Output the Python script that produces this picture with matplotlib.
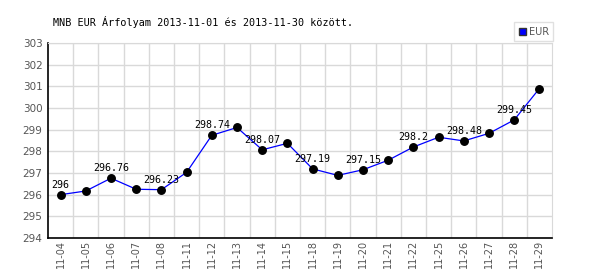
import matplotlib
matplotlib.use("Agg")
import matplotlib.pyplot as plt
import matplotlib.patches as mpatches

dates = ["11-04", "11-05", "11-06", "11-07", "11-08", "11-11", "11-12", "11-13",
         "11-14", "11-15", "11-18", "11-19", "11-20", "11-21", "11-22", "11-25",
         "11-26", "11-27", "11-28", "11-29"]
rates = [296.0, 296.17, 296.76, 296.25, 296.23, 297.03, 298.74, 299.1,
         298.07, 298.37, 297.19, 296.89, 297.15, 297.59, 298.2, 298.65,
         298.48, 298.83, 299.45, 300.9]
yticks = [294, 295, 296, 297, 298, 299, 300, 301, 302, 303]
title = "MNB EUR Árfolyam 2013-11-01 és 2013-11-30 között."
series_name = "EUR"

fig = plt.figure(figsize=(6, 2.7), dpi=100)
ax = fig.add_axes([48/600, 1-238/270, 504/600, 195/270])

x = list(range(len(dates)))
ax.plot(x, rates, color="#0000ff", lw=0.9, zorder=3)
ax.plot(x, rates, "o", color="black", ms=5.4, zorder=4)

for i, v in enumerate(rates):
    if i % 2 == 0:
        lbl = f"{v:g}"
        ax.annotate(lbl, (i, v), xytext=(0, 3.5), textcoords="offset points",
                    ha="center", va="bottom", fontsize=7.2, family="DejaVu Sans Mono",
                    color="black", zorder=5)

ax.set_xlim(-0.5, len(dates) - 0.5)
ax.set_ylim(294, 303)
ax.set_yticks(yticks)
ax.set_yticklabels([str(t) for t in yticks])
ax.set_xticks(x)
ax.set_xticklabels(dates, rotation=90)
ax.set_xticks([i + 0.5 for i in range(len(dates) - 1)], minor=True)
ax.grid(True, which="minor", axis="x", color="#d9d9d9", lw=1)
ax.grid(True, which="major", axis="y", color="#d9d9d9", lw=1)
ax.set_axisbelow(True)
ax.tick_params(axis="both", which="both", length=0, labelcolor="#555555")
ax.tick_params(axis="y", pad=4, labelsize=7.5)
ax.tick_params(axis="x", pad=1.5, labelsize=7)

for s in ["top", "right"]:
    ax.spines[s].set_color("#d9d9d9")
for s in ["left", "bottom"]:
    ax.spines[s].set_color("black")
    ax.spines[s].set_linewidth(1.2)

fig.text(53/600, 1-22/270, title, fontsize=7.3, family="DejaVu Sans Mono",
         ha="left", va="center", color="black")

# legend box
leg = ax.legend(handles=[mpatches.Patch(facecolor="#0000ff", edgecolor="#333333", label=series_name)],
                loc="lower right", bbox_to_anchor=(553/600, 1-41/270), bbox_transform=fig.transFigure,
                fontsize=7, frameon=True, fancybox=False, handlelength=0.7, handleheight=0.7,
                handletextpad=0.3, borderpad=0.45, borderaxespad=0)
leg.get_frame().set_edgecolor("#d9d9d9")
leg.get_frame().set_linewidth(1)
for t in leg.get_texts():
    t.set_color("#555555")

fig.savefig("out.png", dpi=100)
